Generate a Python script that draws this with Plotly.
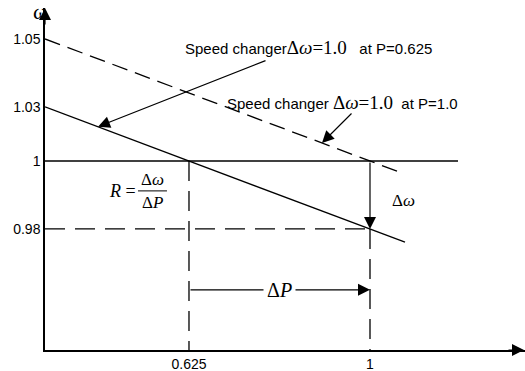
import plotly.graph_objects as go

# ---- data (schematic units: P in p.u. power, w in schematic frequency units) ----
P_range = [0.3267, 1.3211]
W_range = [0.9444, 1.0450]

P_ticks = [0.625, 1.0]
P_tick_text = ["0.625", "1"]

# droop characteristic (solid) and shifted characteristic (dashed)
droop_P = [0.3267, 0.625, 1.0, 1.0725]
droop_W = [1.0159, 1.0, 0.98, 0.9761]
shift_P = [0.3267, 1.0, 1.056]
shift_W = [1.0359, 1.0, 0.9970]

# nominal frequency line
nom_P = [0.3267, 1.1823]
nom_W = [1.0, 1.0]

# y tick labels sit where the characteristics meet the axis
W_tick_pos = [droop_W[2], nom_W[0], droop_W[0], shift_W[0]]
W_tick_text = ["0.98", "1", "1.03", "1.05"]

SANS = "Liberation Sans, Arial, sans-serif"
SERIF = "Liberation Serif, Times New Roman, serif"
LW = 1.3

fig = go.Figure()

def line(x, y, dash=None):
    fig.add_trace(go.Scatter(x=x, y=y, mode="lines", hoverinfo="skip",
                             line=dict(color="black", width=LW, dash=dash),
                             showlegend=False))

line(nom_P, nom_W)
line(droop_P, droop_W)
line(shift_P, shift_W, dash="16px,8px")
# horizontal dashed at 0.98
line([P_range[0], P_ticks[1]], [droop_W[2], droop_W[2]], dash="20px,10px")
# vertical dashed at 0.625 and 1
line([P_ticks[0], P_ticks[0]], [1.0, W_range[0]], dash="20px,10px")
line([P_ticks[1], P_ticks[1]], [droop_W[2], W_range[0]], dash="20px,10px")

def arrow(x, y, ax, ay, **kw):
    fig.add_annotation(x=x, y=y, ax=ax, ay=ay, xref="x", yref="y", axref="x", ayref="y",
                       text="", showarrow=True, arrowhead=2, arrowsize=2.0,
                       arrowwidth=1.2, arrowcolor="black", standoff=0, **kw)

# delta omega arrow (vertical at P=1)
arrow(P_ticks[1], droop_W[2], P_ticks[1], 1.0)
# delta P arrow
dP_W = 0.9621
arrow(P_ticks[1], dP_W, P_ticks[0], dP_W)
fig.add_annotation(x=(P_ticks[0] + P_ticks[1]) / 2, y=dP_W, xref="x", yref="y",
                   text="Δ<i>P</i>", showarrow=False, bgcolor="white", borderpad=3,
                   font=dict(family=SERIF, size=20, color="black"))
# speed changer arrows
arrow(0.4365, 1.0101, 0.7866, 1.0297)
arrow(0.9005, 1.0053, 0.9648, 1.0144)

def serif_span(s, size=19):
    return f'<span style="font-family:{SERIF};font-size:{size}px">{s}</span>'

fig.add_annotation(x=0.6126, y=1.0335, xref="x", yref="y", xanchor="left",
                   text="Speed changer" + serif_span("Δ<i>ω</i>=1.0") + "\u00a0\u00a0 at P=0.625",
                   showarrow=False, font=dict(family=SANS, size=15, color="black"))
fig.add_annotation(x=0.6996, y=1.0171, xref="x", yref="y", xanchor="left",
                   text="Speed changer " + serif_span("Δ<i>ω</i>=1.0") + "\u00a0\u00a0at P=1.0",
                   showarrow=False, font=dict(family=SANS, size=15, color="black"))

# delta omega label
fig.add_annotation(x=1.0414, y=0.9885, xref="x", yref="y", xanchor="left",
                   text="Δ<i>ω</i>", showarrow=False,
                   font=dict(family=SERIF, size=17, color="black"))

# R = dω/dP
fig.add_annotation(x=0.5194, y=0.9911, xref="x", yref="y", xanchor="right",
                   text="<i>R</i> =", showarrow=False,
                   font=dict(family=SERIF, size=18, color="black"))
fig.add_annotation(x=0.5494, y=0.9947, xref="x", yref="y",
                   text="Δ<i>ω</i>", showarrow=False,
                   font=dict(family=SERIF, size=17, color="black"))
fig.add_annotation(x=0.5494, y=0.9879, xref="x", yref="y",
                   text="Δ<i>P</i>", showarrow=False,
                   font=dict(family=SERIF, size=17, color="black"))
fig.add_shape(type="line", x0=0.5193, x1=0.5794, y0=0.9912, y1=0.9912,
              xref="x", yref="y", line=dict(color="black", width=1))

# axis arrowheads
fig.add_annotation(x=1, y=0, xref="paper", yref="paper", ax=-18, ay=0,
                   text="", showarrow=True, arrowhead=2, arrowsize=2.0, arrowwidth=1.2,
                   arrowcolor="black", standoff=0)
fig.add_annotation(x=0, y=1, xref="paper", yref="paper", ax=0, ay=18,
                   text="", showarrow=True, arrowhead=2, arrowsize=2.0, arrowwidth=1.2,
                   arrowcolor="black", standoff=0)
fig.add_annotation(x=-0.027, y=1.03, xref="paper", yref="paper", yanchor="top",
                   text="ω", showarrow=False, borderpad=0,
                   font=dict(family=SERIF, size=22, color="black"))

fig.update_xaxes(range=P_range, showgrid=False, zeroline=False, showline=True,
                 linecolor="black", linewidth=1.5, ticks="",
                 tickvals=P_ticks, ticktext=P_tick_text,
                 tickfont=dict(family=SANS, size=14, color="black"))
fig.update_yaxes(range=W_range, showgrid=False, zeroline=False, showline=True,
                 linecolor="black", linewidth=1.5, ticks="",
                 tickvals=W_tick_pos, ticktext=W_tick_text,
                 tickfont=dict(family=SANS, size=14, color="black"))

fig.update_layout(width=525, height=371, margin=dict(l=45, r=0, t=8, b=21),
                  paper_bgcolor="white", plot_bgcolor="white")

fig.write_html("out.html")
